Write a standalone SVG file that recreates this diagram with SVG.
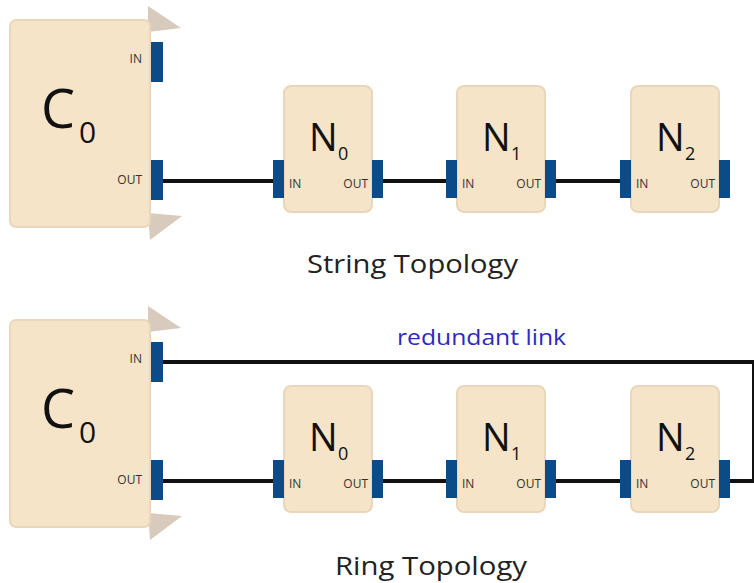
<svg xmlns="http://www.w3.org/2000/svg" width="754" height="583" viewBox="0 0 754 583">
  <style>
    .box { fill: #f6e4c8; stroke: #ead7bb; stroke-width: 2; }
    .fin { fill: #d8cbbd; }
    .port { fill: #0b4b88; }
    .wire { fill: none; stroke: #111; stroke-width: 4; }
    .big { font-family: "Open Sans", "Noto Sans", sans-serif; fill: #111; }
    .pl { font-family: "Open Sans", "Noto Sans", sans-serif; font-size: 12px; fill: #333; }
    .title { font-family: "Open Sans", "Noto Sans", sans-serif; font-size: 26px; fill: #222; }
    .note { font-family: "Open Sans", "Noto Sans", sans-serif; font-size: 21px; fill: #2b2bc0; }
  </style>
  <defs>
    <!-- controller block: body, fins and ports -->
    <g id="ctrl">
      <polygon class="fin" points="148,6 181,28 148,32"/>
      <polygon class="fin" points="148,213 182,216 150,240"/>
      <rect class="box" x="10" y="20" width="140" height="207" rx="6"/>
      <rect class="port" x="151" y="42" width="12" height="40"/>
      <rect class="port" x="151" y="160" width="12" height="40"/>
      <text class="big" x="41" y="128" font-size="54">C</text>
      <text class="big" x="79" y="143" font-size="30">0</text>
      <text class="pl" x="142" y="63" text-anchor="end">IN</text>
      <text class="pl" x="142" y="184" text-anchor="end">OUT</text>
    </g>
    <!-- node block body and ports, drawn at origin -->
    <g id="nodebody">
      <rect class="box" x="0" y="0" width="88" height="126" rx="7"/>
      <rect class="port" x="-11" y="74" width="11" height="38"/>
      <rect class="port" x="88" y="74" width="11" height="38"/>
      <text class="pl" x="5" y="102">IN</text>
      <text class="pl" x="84" y="102" text-anchor="end">OUT</text>
    </g>
  </defs>

  <!-- string topology -->
  <g id="string-connectors">
    <line class="wire" x1="163" y1="181" x2="274" y2="181"/>
    <line class="wire" x1="383" y1="181" x2="447" y2="181"/>
    <line class="wire" x1="556" y1="181" x2="622" y2="181"/>
  </g>
  <g id="s-c0"><use href="#ctrl"/></g>
  <g id="s-n0" transform="translate(284,86)">
    <use href="#nodebody"/>
    <text class="big" x="25" y="65" font-size="38">N</text>
    <text class="big" x="54" y="74" font-size="18">0</text>
  </g>
  <g id="s-n1" transform="translate(457,86)">
    <use href="#nodebody"/>
    <text class="big" x="25" y="65" font-size="38">N</text>
    <text class="big" x="54" y="74" font-size="18">1</text>
  </g>
  <g id="s-n2" transform="translate(631,86)">
    <use href="#nodebody"/>
    <text class="big" x="25" y="65" font-size="38">N</text>
    <text class="big" x="54" y="74" font-size="18">2</text>
  </g>
  <text class="title" x="307" y="273" textLength="211" lengthAdjust="spacingAndGlyphs">String Topology</text>

  <!-- ring topology -->
  <g id="ring-connectors">
    <line class="wire" x1="163" y1="481" x2="274" y2="481"/>
    <line class="wire" x1="383" y1="481" x2="447" y2="481"/>
    <line class="wire" x1="556" y1="481" x2="622" y2="481"/>
    <polyline class="wire" points="163,362 754,362 754,481 729,481" stroke-linejoin="miter"/>
    <text class="note" x="397" y="345" textLength="169" lengthAdjust="spacingAndGlyphs">redundant link</text>
  </g>
  <g id="r-c0" transform="translate(0,300)"><use href="#ctrl"/></g>
  <g id="r-n0" transform="translate(284,386)">
    <use href="#nodebody"/>
    <text class="big" x="25" y="65" font-size="38">N</text>
    <text class="big" x="54" y="74" font-size="18">0</text>
  </g>
  <g id="r-n1" transform="translate(457,386)">
    <use href="#nodebody"/>
    <text class="big" x="25" y="65" font-size="38">N</text>
    <text class="big" x="54" y="74" font-size="18">1</text>
  </g>
  <g id="r-n2" transform="translate(631,386)">
    <use href="#nodebody"/>
    <text class="big" x="25" y="65" font-size="38">N</text>
    <text class="big" x="54" y="74" font-size="18">2</text>
  </g>
  <text class="title" x="335" y="575" textLength="192" lengthAdjust="spacingAndGlyphs">Ring Topology</text>
</svg>
